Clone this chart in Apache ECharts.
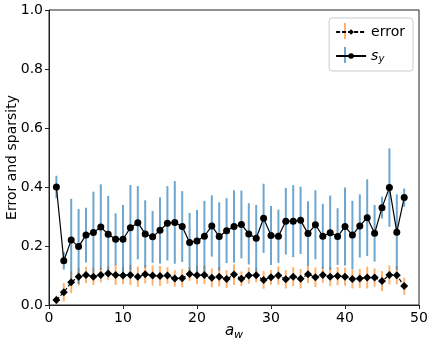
<!DOCTYPE html>
<html>
<head>
<meta charset="utf-8">
<script src="https://cdn.jsdelivr.net/npm/echarts@6/dist/echarts.min.js"></script>
<style>
  html, body { margin: 0; padding: 0; background: #fff; }
  #chart { width: 435px; height: 346px; }
</style>
</head>
<body>
<div id="chart"></div>
<script>
// a_w values
const aw = [1,2,3,4,5,6,7,8,9,10,11,12,13,14,15,16,17,18,19,20,21,22,23,24,
  25,26,27,28,29,30,31,32,33,34,35,36,37,38,39,40,41,42,43,44,45,46,47,48]

// error mean and std
const errMean = [0.017,0.043,0.077,0.096,0.102,0.096,0.102,0.107,0.102,0.100,0.102,0.096,
  0.104,0.100,0.098,0.100,0.090,0.091,0.105,0.101,0.102,0.092,0.096,0.088,
  0.103,0.089,0.100,0.101,0.085,0.094,0.100,0.087,0.096,0.089,0.104,0.094,
  0.102,0.096,0.098,0.096,0.088,0.090,0.093,0.093,0.081,0.102,0.101,0.064]
const errStd = [0.015,0.031,0.037,0.030,0.028,0.028,0.025,0.023,0.034,0.030,0.034,0.034,
  0.031,0.034,0.034,0.028,0.028,0.031,0.023,0.030,0.031,0.032,0.033,0.030,
  0.035,0.025,0.028,0.024,0.030,0.025,0.031,0.031,0.032,0.033,0.029,0.033,
  0.027,0.032,0.031,0.031,0.032,0.032,0.037,0.031,0.034,0.032,0.031,0.029]

// sparsity s_y mean and std
const syMean = [0.400,0.150,0.220,0.198,0.237,0.246,0.264,0.240,0.223,0.223,0.262,0.279,
  0.241,0.231,0.253,0.277,0.280,0.266,0.212,0.217,0.233,0.268,0.232,0.252,
  0.266,0.273,0.241,0.226,0.294,0.236,0.233,0.284,0.284,0.287,0.242,0.272,
  0.233,0.245,0.232,0.266,0.237,0.268,0.296,0.243,0.330,0.398,0.247,0.364]
const syStd = [0.038,0.030,0.140,0.127,0.093,0.138,0.145,0.130,0.088,0.116,0.145,0.124,
  0.114,0.088,0.112,0.126,0.140,0.120,0.100,0.105,0.120,0.104,0.116,0.110,
  0.123,0.115,0.104,0.113,0.117,0.100,0.090,0.113,0.122,0.114,0.110,0.117,
  0.110,0.126,0.096,0.132,0.116,0.107,0.130,0.096,0.037,0.133,0.128,0.031]

const xTicks = [0, 10, 20, 30, 40, 50]
const yTicks = [0, 0.2, 0.4, 0.6, 0.8, 1.0]

const font = 'DejaVu Sans'
const orange = 'rgba(255,127,14,0.6)'
const blue = 'rgba(31,119,180,0.65)'

// 误差棒
function barSeries(name, mean, std, color) {
  return {
    name: name,
    type: 'custom',
    z: 1,
    data: aw.map((x, i) => [x, mean[i] - std[i], mean[i] + std[i]]),
    encode: { x: 0, y: [1, 2] },
    renderItem(params, api) {
      let p1 = api.coord([api.value(0), api.value(1)])
      let p2 = api.coord([api.value(0), api.value(2)])
      return {
        type: 'line',
        shape: { x1: p1[0], y1: p1[1], x2: p2[0], y2: p2[1] },
        style: { stroke: color, lineWidth: 2 }
      }
    }
  }
}

const chart = echarts.init(document.getElementById('chart'), null, { renderer: 'canvas' })

chart.setOption({
  animation: false,
  backgroundColor: '#fff',
  textStyle: { fontFamily: font },
  grid: {
    left: 49, right: 16, top: 10, bottom: 41,
    outerBoundsMode: 'none',
    containLabel: false,
    show: true, borderColor: '#222', borderWidth: 1
  },
  legend: {
    data: ['error', 's_y'],
    orient: 'vertical',
    right: 22,
    top: 18,
    padding: [7, 8, 7, 6],
    itemWidth: 30,
    itemHeight: 7,
    itemGap: 10,
    borderColor: '#ccc',
    borderWidth: 1,
    borderRadius: 3,
    textStyle: {
      fontFamily: font, fontSize: 14, color: '#000',
      rich: {
        s: { fontFamily: font, fontSize: 14, fontStyle: 'italic', color: '#000' },
        sub: { fontFamily: font, fontSize: 10, fontStyle: 'italic', color: '#000', verticalAlign: 'bottom', padding: [6, 0, 0, 0] }
      }
    },
    formatter(name) {
      return name === 's_y' ? '{s|s}{sub|y}' : name
    }
  },
  // legend 图例里的竖线
  graphic: [
    { type: 'line', z: 0, shape: { x1: 345, y1: 23, x2: 345, y2: 39 }, style: { stroke: orange, lineWidth: 2 } },
    { type: 'line', z: 0, shape: { x1: 345, y1: 47, x2: 345, y2: 63 }, style: { stroke: blue, lineWidth: 2 } }
  ],
  xAxis: {
    type: 'value',
    min: 0, max: 50, interval: 10,
    name: '{a|a}{w|w}',
    nameLocation: 'middle',
    nameMoveOverlap: false,
    nameGap: 17,
    nameTextStyle: {
      rich: {
        a: { fontFamily: font, fontSize: 15, fontStyle: 'italic', color: '#000' },
        w: { fontFamily: font, fontSize: 11, fontStyle: 'italic', color: '#000', verticalAlign: 'bottom', padding: [8, 0, 0, 0] }
      }
    },
    axisLine: { lineStyle: { color: '#222' } },
    axisTick: { inside: false, length: 4, lineStyle: { color: '#222' } },
    axisLabel: { fontFamily: font, fontSize: 14, color: '#000', margin: 6 },
    splitLine: { show: false }
  },
  yAxis: {
    type: 'value',
    min: 0, max: 1, interval: 0.2,
    name: 'Error and sparsity',
    nameLocation: 'middle',
    nameMoveOverlap: false,
    nameGap: 30,
    nameTextStyle: { fontFamily: font, fontSize: 14, color: '#000' },
    axisLine: { show: true, lineStyle: { color: '#222' } },
    axisTick: { show: true, inside: false, length: 4, lineStyle: { color: '#222' } },
    axisLabel: { fontFamily: font, fontSize: 14, color: '#000', margin: 6, formatter: v => v.toFixed(1) },
    splitLine: { show: false }
  },
  series: [
    barSeries('error-bars', errMean, errStd, orange),
    barSeries('sy-bars', syMean, syStd, blue),
    {
      name: 'error',
      type: 'line',
      z: 3,
      data: aw.map((x, i) => [x, errMean[i]]),
      symbol: 'diamond',
      symbolSize: 8,
      itemStyle: { color: '#000' },
      lineStyle: { color: '#000', width: 1.2, type: [4, 2] }
    },
    {
      name: 's_y',
      type: 'line',
      z: 3,
      data: aw.map((x, i) => [x, syMean[i]]),
      symbol: 'circle',
      symbolSize: 7,
      itemStyle: { color: '#000' },
      lineStyle: { color: '#000', width: 1.2 }
    }
  ]
})
</script>
</body>
</html>
